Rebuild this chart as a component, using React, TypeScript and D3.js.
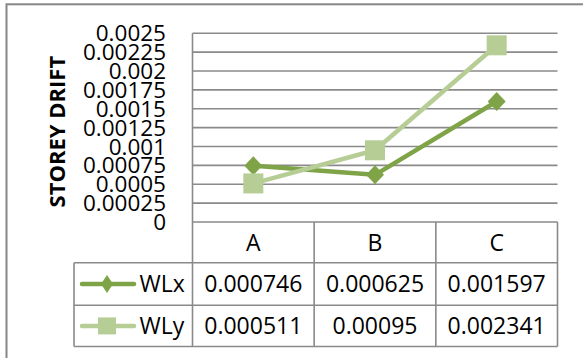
import React from "react";
import * as d3 from "d3";

const categories = ["A", "B", "C"];
const wlx = [0.000746, 0.000625, 0.001597];
const wly = [0.000511, 0.00095, 0.002341];
const yTicks = [0, 0.00025, 0.0005, 0.00075, 0.001, 0.00125, 0.0015, 0.00175, 0.002, 0.00225, 0.0025];
const axisTitle = "STOREY DRIFT";

const W = 583;
const H = 358;
const FONT = "'Open Sans', 'Liberation Sans', sans-serif";
const GRID = "#8a8a8a";
const DARK = "#7fa347";
const LIGHT = "#b6cd95";

const plotLeft = 192.5;
const plotRight = 557.5;
const plotTop = 33.3;
const plotBottom = 222;
const legendLeft = 74;
const rowLines = [262.7, 305.3, 346.5];

const fmt = (v: number) => String(+v.toFixed(6));

export default function App() {
  const x = d3.scalePoint<string>().domain(categories).range([plotLeft, plotRight]).padding(0.5);
  const y = d3.scaleLinear().domain([0, 0.0025]).range([plotBottom, plotTop]);
  const colW = (plotRight - plotLeft) / categories.length;
  const line = d3
    .line<number>()
    .x((_, i) => x(categories[i]) as number)
    .y((d) => y(d));

  const series = [
    { name: "WLx", values: wlx, color: DARK, marker: "diamond" },
    { name: "WLy", values: wly, color: LIGHT, marker: "square" },
  ];

  const marker = (kind: string, cx: number, cy: number, color: string, w: number, h: number, key: string) =>
    kind === "diamond" ? (
      <path key={key} d={`M${cx},${cy - h / 2}L${cx + w / 2},${cy}L${cx},${cy + h / 2}L${cx - w / 2},${cy}Z`} fill={color} />
    ) : (
      <rect key={key} x={cx - w / 2} y={cy - h / 2} width={w} height={h} fill={color} />
    );

  const rowCenters = [
    (rowLines[0] + rowLines[1]) / 2,
    (rowLines[1] + rowLines[2]) / 2,
  ];

  return (
    <div style={{ position: "fixed", left: 0, top: 0 }}>
      <svg width={W} height={H} style={{ display: "block", background: "#fff" }} fontFamily={FONT}>
        {/* chart frame */}
        <rect x={6.5} y={4.3} width={W + 20} height={H + 20} fill="none" stroke="#868686" strokeWidth={2} />

        {/* horizontal gridlines */}
        {yTicks.map((t) => (
          <line key={"g" + t} x1={plotLeft} x2={plotRight} y1={y(t)} y2={y(t)} stroke={GRID} strokeWidth={1.6} />
        ))}

        {/* y tick labels */}
        {yTicks.map((t) => (
          <text key={"t" + t} x={166} y={y(t)} dy="0.36em" textAnchor="end" fontSize={22.5} fill="#000">
            {fmt(t)}
          </text>
        ))}

        {/* axis title */}
        <text
          transform={`translate(65,${(plotTop + plotBottom) / 2 + 4}) rotate(-90)`}
          textAnchor="middle"
          fontSize={22}
          fontWeight="bold"
          fill="#000"
        >
          {axisTitle}
        </text>

        {/* data table grid */}
        <line x1={plotLeft} x2={plotLeft} y1={plotTop} y2={rowLines[2]} stroke={GRID} strokeWidth={1.6} />
        {categories.map((c, i) => (
          <line
            key={"v" + c}
            x1={plotLeft + colW * (i + 1)}
            x2={plotLeft + colW * (i + 1)}
            y1={plotBottom}
            y2={rowLines[2]}
            stroke={GRID}
            strokeWidth={1.6}
          />
        ))}
        {rowLines.map((ry) => (
          <line key={"r" + ry} x1={legendLeft} x2={plotRight} y1={ry} y2={ry} stroke={GRID} strokeWidth={1.6} />
        ))}
        <line x1={legendLeft} x2={legendLeft} y1={rowLines[0]} y2={rowLines[2]} stroke={GRID} strokeWidth={1.6} />

        {/* header labels */}
        {categories.map((c) => (
          <text key={"h" + c} x={x(c)} y={(plotBottom + rowLines[0]) / 2} dy="0.36em" textAnchor="middle" fontSize={23} fill="#000">
            {c}
          </text>
        ))}

        {/* table values and legend keys */}
        {series.map((s, r) => (
          <g key={"row" + s.name}>
            <line x1={82} x2={134} y1={rowCenters[r]} y2={rowCenters[r]} stroke={s.color} strokeWidth={4.5} strokeLinecap="round" />
            {s.marker === "diamond"
              ? marker("diamond", 107, rowCenters[r], s.color, 12, 18, "lm")
              : marker("square", 107, rowCenters[r], s.color, 18, 17, "lm")}
            <text x={139.5} y={rowCenters[r]} dy="0.36em" fontSize={23} fill="#000">
              {s.name}
            </text>
            {s.values.map((v, i) => (
              <text key={"v" + i} x={x(categories[i])} y={rowCenters[r]} dy="0.36em" textAnchor="middle" fontSize={23} fill="#000">
                {fmt(v)}
              </text>
            ))}
          </g>
        ))}

        {/* series lines */}
        {series.map((s) => (
          <g key={"s" + s.name}>
            <path d={line(s.values) as string} fill="none" stroke={s.color} strokeWidth={4.5} strokeLinejoin="round" />
            {s.values.map((v, i) =>
              s.marker === "diamond"
                ? marker("diamond", x(categories[i]) as number, y(v), s.color, 18, 19, "m" + i)
                : marker("square", x(categories[i]) as number, y(v), s.color, 20, 20, "m" + i)
            )}
          </g>
        ))}
      </svg>
    </div>
  );
}
